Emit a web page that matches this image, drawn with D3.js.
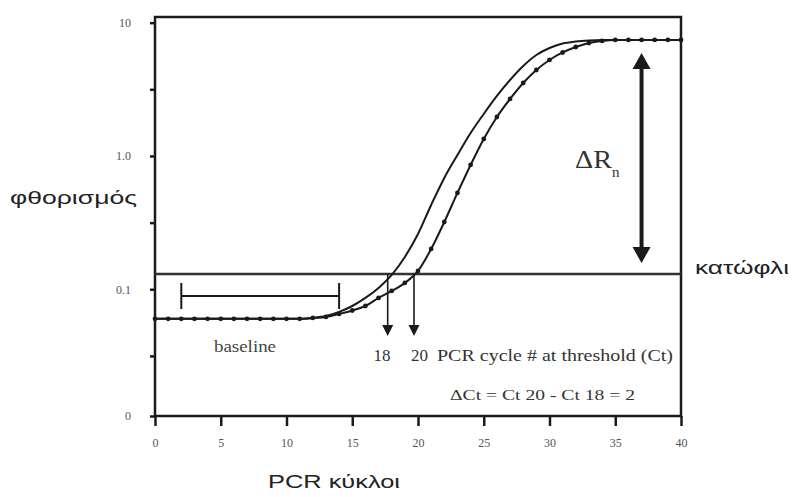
<!DOCTYPE html>
<html><head><meta charset="utf-8">
<script src="https://cdn.jsdelivr.net/npm/d3@7"></script>
<style>body{margin:0;background:#fff}svg{display:block}</style>
</head><body><svg id="c" width="799" height="497"></svg>
<script>
// ---- data ----
const cycles = [0,1,2,3,4,5,6,7,8,9,10,11,12,13,14,15,16,17,18,19,20,21,22,23,24,25,26,27,28,29,30,31,32,33,34,35,36,37,38,39,40];
// sample with Ct = 18 (solid line)
const sampleA = [0.060,0.060,0.060,0.060,0.060,0.060,0.060,0.060,0.060,0.060,0.060,0.060,
  0.061,0.063,0.0676,0.0749,0.0861,0.1023,0.128,0.1747,0.260,0.429,0.684,1.017,1.487,2.066,2.819,3.717,4.734,5.724,6.459,6.982,7.228,7.36,
  7.42,7.42,7.42,7.42,7.42,7.42,7.42];
// sample with Ct = 20 (line with dots)
const sampleB = [0.060,0.060,0.060,0.060,0.060,0.060,0.060,0.060,0.060,0.060,0.060,0.060,
  0.061,0.062,0.0653,0.0693,0.0749,0.0861,0.0971,0.1115,0.1372,0.2006,0.3197,0.528,0.856,1.341,1.961,2.677,3.527,4.415,5.251,5.976,6.572,7.039,
  7.29,7.42,7.42,7.42,7.42,7.42,7.42];
const xTicks = [0,5,10,15,20,25,30,35,40];
const yTickValues = [10, 3.162, 1, 0.3162, 0.1, 0.03162, 0.0112];
const yTickLabels = ["10","","1.0","","0.1","","0"];
const threshold = 0.13;
const ctValues = [18, 20];
const baselineRange = [2, 14];
const baselineLevel = 0.089;
const plateauLevel = 7.42;
const deltaRnCycle = 37;

// ---- chart ----
const svg = d3.select("#c");
const x = d3.scaleLinear().domain([0, 40]).range([155, 681]);
const y = d3.scaleLog().domain([0.0112, 11.03]).range([416, 17]);
const ink = "#1a1a1a";
const serif = "'Liberation Serif','Times New Roman',serif";
const sans = "'Liberation Sans',Arial,sans-serif";

// axes
const gx = svg.append("g").attr("transform", "translate(0,416)")
  .call(d3.axisBottom(x).tickValues(xTicks).tickSize(10).tickSizeOuter(0).tickPadding(12));
const gy = svg.append("g").attr("transform", "translate(155,0)")
  .call(d3.axisLeft(y).tickValues(yTickValues).tickFormat((d, i) => yTickLabels[i]).tickSize(5).tickSizeOuter(0).tickPadding(19));
[gx, gy].forEach(g => {
  g.select(".domain").remove();
  g.selectAll(".tick line").attr("stroke", ink).attr("stroke-width", 2.5);
  g.selectAll(".tick text").attr("font-family", serif).attr("font-size", 12).attr("fill", "#555");
});

// frame
svg.append("rect").attr("x", x(0)).attr("y", y(11.03)).attr("width", x(40) - x(0)).attr("height", y(0.0112) - y(11.03))
  .attr("fill", "none").attr("stroke", ink).attr("stroke-width", 2.5);

// threshold
svg.append("line").attr("x1", x(0)).attr("x2", x(40)).attr("y1", y(threshold)).attr("y2", y(threshold))
  .attr("stroke", "#333").attr("stroke-width", 2.5);

// curves
const line = d3.line().x((d, i) => x(cycles[i])).y(d => y(d)).curve(d3.curveMonotoneX);
svg.append("path").datum(sampleA).attr("d", line).attr("fill", "none").attr("stroke", ink).attr("stroke-width", 2);
svg.append("path").datum(sampleB).attr("d", line).attr("fill", "none").attr("stroke", ink).attr("stroke-width", 2);
svg.append("g").selectAll("circle").data(sampleB).join("circle")
  .attr("cx", (d, i) => x(cycles[i])).attr("cy", d => y(d)).attr("r", 2.4).attr("fill", ink);

// baseline bracket
const by = y(baselineLevel);
svg.append("line").attr("x1", x(baselineRange[0])).attr("x2", x(baselineRange[1])).attr("y1", by).attr("y2", by)
  .attr("stroke", ink).attr("stroke-width", 2);
baselineRange.forEach(c => svg.append("line").attr("x1", x(c)).attr("x2", x(c)).attr("y1", by - 13).attr("y2", by + 13)
  .attr("stroke", ink).attr("stroke-width", 2));
svg.append("text").attr("x", 245).attr("y", 352).attr("text-anchor", "middle")
  .attr("font-family", serif).attr("font-size", 16).attr("fill", "#444")
  .attr("textLength", 62).attr("lengthAdjust", "spacingAndGlyphs").text("baseline");

// Ct arrows
ctValues.forEach(c => {
  const ax = x(c) - 4, top = y(threshold), tip = 336;
  svg.append("line").attr("x1", ax).attr("x2", ax).attr("y1", top).attr("y2", tip - 8).attr("stroke", ink).attr("stroke-width", 1.6);
  svg.append("path").attr("d", `M${ax - 5.5},${tip - 11}L${ax + 5.5},${tip - 11}L${ax},${tip}Z`).attr("fill", ink);
});
svg.append("text").attr("x", 382).attr("y", 361).attr("text-anchor", "middle")
  .attr("font-family", serif).attr("font-size", 17).attr("fill", "#333").text(ctValues[0]);
svg.append("text").attr("x", 411).attr("y", 361)
  .attr("font-family", serif).attr("font-size", 17).attr("fill", "#333").text(ctValues[1]);
svg.append("text").attr("x", 437).attr("y", 361)
  .attr("font-family", serif).attr("font-size", 17).attr("fill", "#333")
  .attr("textLength", 236).attr("lengthAdjust", "spacingAndGlyphs").text("PCR cycle # at threshold (Ct)");
svg.append("text").attr("x", 450).attr("y", 400)
  .attr("font-family", serif).attr("font-size", 15).attr("fill", "#333")
  .attr("textLength", 185).attr("lengthAdjust", "spacingAndGlyphs").text("ΔCt = Ct 20 - Ct 18 = 2");

// ΔRn double arrow
const dx = x(deltaRnCycle), t1 = y(plateauLevel) + 13, t2 = y(threshold) - 11;
svg.append("line").attr("x1", dx).attr("x2", dx).attr("y1", t1 + 10).attr("y2", t2 - 10).attr("stroke", ink).attr("stroke-width", 4);
svg.append("path").attr("d", `M${dx},${t1}L${dx + 9},${t1 + 16}L${dx - 9},${t1 + 16}Z`).attr("fill", ink);
svg.append("path").attr("d", `M${dx},${t2}L${dx + 9},${t2 - 16}L${dx - 9},${t2 - 16}Z`).attr("fill", ink);
svg.append("text").attr("x", 575).attr("y", 168)
  .attr("font-family", serif).attr("font-size", 25).attr("fill", "#333")
  .attr("textLength", 37).attr("lengthAdjust", "spacingAndGlyphs").text("ΔR");
svg.append("text").attr("x", 612).attr("y", 177)
  .attr("font-family", serif).attr("font-size", 15).attr("fill", "#333").text("n");

// axis titles
svg.append("text").attr("x", 10).attr("y", 204)
  .attr("font-family", sans).attr("font-size", 19).attr("fill", "#222")
  .attr("textLength", 127).attr("lengthAdjust", "spacingAndGlyphs").text("φθορισμός");
svg.append("text").attr("x", 695).attr("y", 274)
  .attr("font-family", sans).attr("font-size", 19).attr("fill", "#222")
  .attr("textLength", 94).attr("lengthAdjust", "spacingAndGlyphs").text("κατώφλι");
svg.append("text").attr("x", 268).attr("y", 488)
  .attr("font-family", sans).attr("font-size", 19).attr("fill", "#222")
  .attr("textLength", 132).attr("lengthAdjust", "spacingAndGlyphs").text("PCR κύκλοι");
</script>
</body></html>
